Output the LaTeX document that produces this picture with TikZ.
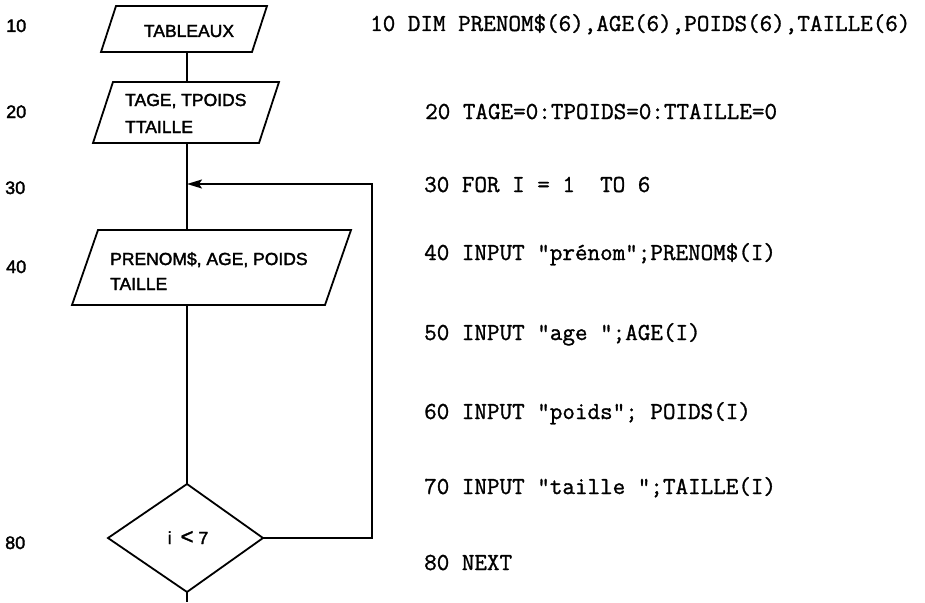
\documentclass[tikz,border=0pt]{standalone}
\usepackage{fontspec}
\setmainfont{Liberation Sans}
\newfontfamily\flowfont[FakeBold=2]{Liberation Sans}
\newfontfamily\codefont[FakeBold=1.2]{Latin Modern Mono}
\usetikzlibrary{arrows.meta}
\tikzset{
  flow/.style={line width=1.8pt, line join=miter},
  lbl/.style={font=\flowfont\fontsize{18}{20}\selectfont, inner sep=0pt, anchor=base west},
  boxtxt/.style={font=\flowfont\fontsize{17.5}{20}\selectfont, inner sep=0pt},
  code/.style={font=\codefont\fontsize{24.4}{28}\selectfont, inner sep=0pt, anchor=base west},
  tip/.style={-{Stealth[length=15pt,width=9pt,inset=3pt]}}
}
\begin{document}
\begin{tikzpicture}[x=1pt,y=-1pt]
\useasboundingbox (0,0) rectangle (925,602);
% left line numbers
\node[lbl] (n10) at (6,32) {10};
\node[lbl] (n20) at (6,118) {20};
\node[lbl] (n30) at (5,194) {30};
\node[lbl] (n40) at (6,273) {40};
\node[lbl] (n80) at (5,549) {80};
% shape corners
\coordinate (a1) at (116,6);  \coordinate (a2) at (267,6);
\coordinate (a3) at (252,52); \coordinate (a4) at (101,52);
\coordinate (b1) at (113,82); \coordinate (b2) at (279,82);
\coordinate (b3) at (259,143);\coordinate (b4) at (93,143);
\coordinate (c1) at (98,230); \coordinate (c2) at (351,230);
\coordinate (c3) at (325,305);\coordinate (c4) at (72,305);
\coordinate (dT) at (187,484); \coordinate (dR) at (263,538);
\coordinate (dB) at (187,592); \coordinate (dL) at (108,538);
\draw[flow] (a1) -- (a2) -- (a3) -- (a4) -- cycle;
\draw[flow] (b1) -- (b2) -- (b3) -- (b4) -- cycle;
\draw[flow] (c1) -- (c2) -- (c3) -- (c4) -- cycle;
\draw[flow] (dT) -- (dR) -- (dB) -- (dL) -- cycle;
% box texts
\node[boxtxt, anchor=base] (tab) at (189,37) {TABLEAUX};
\node[boxtxt, anchor=base west] (tg1) at (125,106) {TAGE, TPOIDS};
\node[boxtxt, anchor=base west] (tg2) at (125,133) {TTAILLE};
\node[boxtxt, anchor=base west] (pr1) at (110,265) {PRENOM\$, AGE, POIDS};
\node[boxtxt, anchor=base west] (pr2) at (110,290) {TAILLE};
\node[boxtxt, anchor=base] (cond) at (188,544) {i\hspace{9pt}{\fontsize{22}{22}\selectfont <}\hspace{5pt}7};
% connectors
\coordinate (aB) at (187,52);  \coordinate (bT) at (187,82);
\coordinate (bB) at (187,143); \coordinate (cT) at (187,230);
\coordinate (cB) at (187,305); \coordinate (join) at (187,184);
\coordinate (rb) at (372,538); \coordinate (rt) at (372,184);
\coordinate (out) at (187,602);
\draw[flow] (aB) -- (bT);
\draw[flow] (bB) -- (cT);
\draw[flow] (cB) -- (dT);
\draw[flow] (dB) -- (out);
\draw[flow, tip] (dR) -- (rb) -- (rt) -- (join);
% code lines
\node[code] (l10) at (370,31) {10 DIM PRENOM\$(6),AGE(6),POIDS(6),TAILLE(6)};
\node[code] (l20) at (425,119) {20 TAGE=0:TPOIDS=0:TTAILLE=0};
\node[code] (l30) at (424,192) {30 FOR I = 1\ \ TO 6};
\node[code] (l40) at (424,260) {40 INPUT "prénom";PRENOM\$(I)};
\node[code] (l50) at (424,340) {50 INPUT "age ";AGE(I)};
\node[code] (l60) at (424,419) {60 INPUT "poids"; POIDS(I)};
\node[code] (l70) at (424,494) {70 INPUT "taille ";TAILLE(I)};
\node[code] (l80) at (424,570) {80 NEXT};
\end{tikzpicture}
\end{document}
